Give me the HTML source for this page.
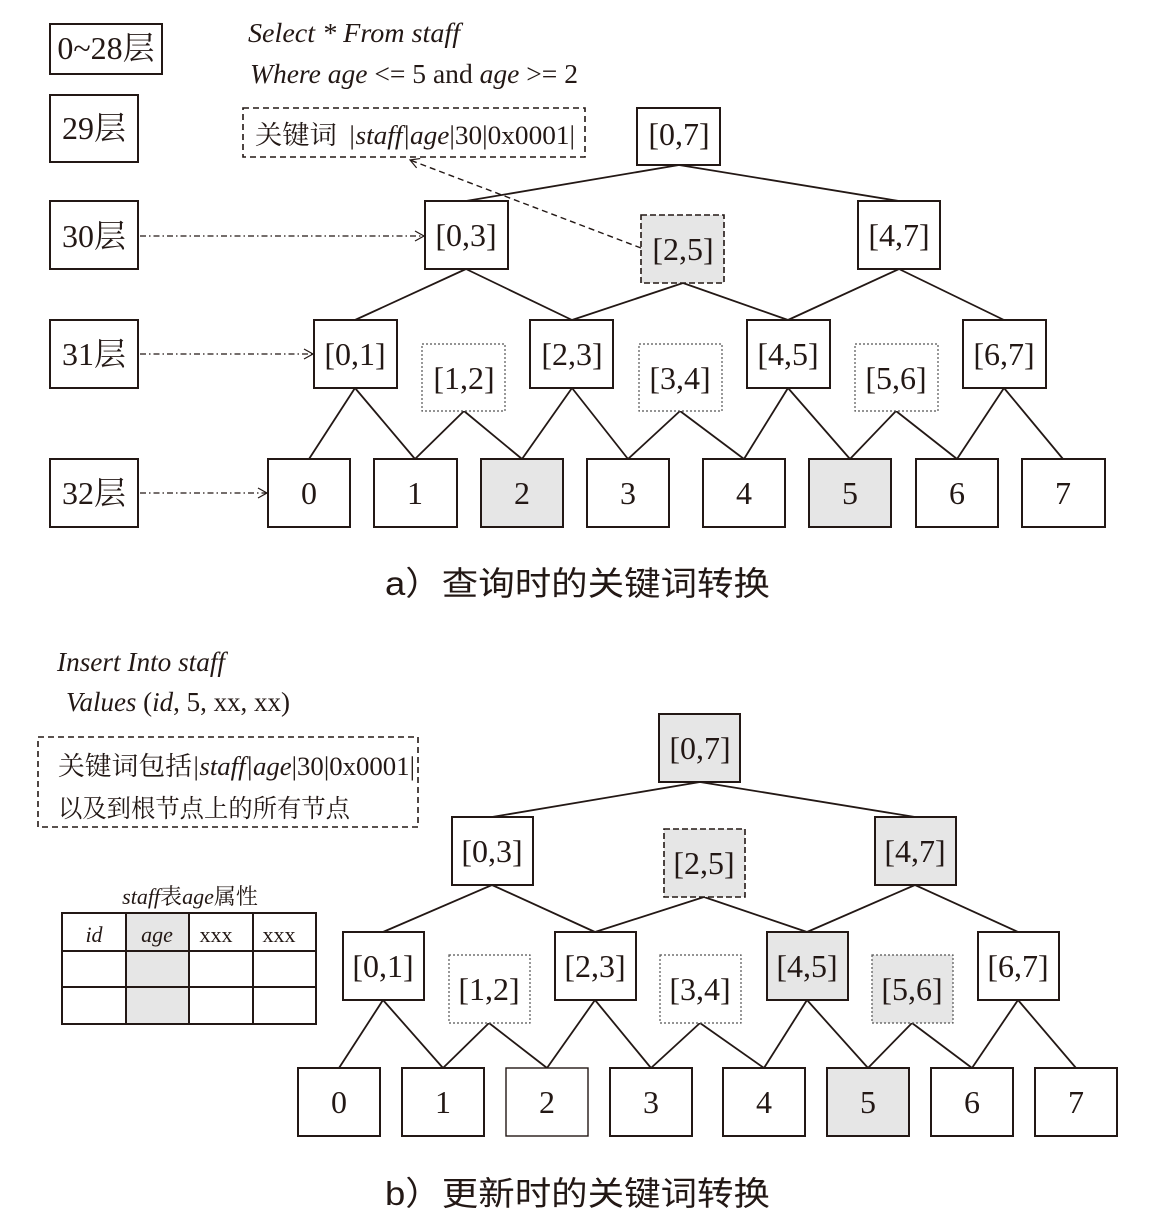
<!DOCTYPE html>
<html><head><meta charset="utf-8"><style>
html,body{margin:0;padding:0;background:#fff}
svg{display:block}
text{font-family:"Liberation Serif","Noto Serif CJK SC",serif;fill:#231815}
.n{font-size:32px;text-anchor:middle;dominant-baseline:central}
.s{font-family:"Liberation Sans","Noto Sans CJK SC",sans-serif;font-size:33px}
</style></head><body>
<svg width="1160" height="1217" viewBox="0 0 1160 1217" xmlns="http://www.w3.org/2000/svg">
<defs><marker id="ar" markerWidth="12" markerHeight="12" refX="10" refY="6" orient="auto" markerUnits="userSpaceOnUse"><path d="M1,1 L10,6 L1,11" fill="none" stroke="#231815" stroke-width="1.2"/></marker></defs>
<g stroke="#231815" stroke-width="2" fill="#fff">
<rect x="50" y="24" width="112" height="50"/>
<rect x="50" y="95" width="88" height="67"/>
<rect x="50" y="201" width="88" height="68"/>
<rect x="50" y="320" width="88" height="68"/>
<rect x="50" y="459" width="88" height="68"/>
</g>
<text class="n" x="106" y="48">0~28层</text>
<text class="n" x="94" y="128">29层</text>
<text class="n" x="94" y="236">30层</text>
<text class="n" x="94" y="354">31层</text>
<text class="n" x="94" y="493">32层</text>
<g stroke="#231815" stroke-width="1.2" fill="none" stroke-dasharray="6,3,1.5,3" marker-end="url(#ar)">
<line x1="140" y1="236" x2="424" y2="236"/>
<line x1="140" y1="354" x2="313" y2="354"/>
<line x1="140" y1="493" x2="267" y2="493"/>
</g>
<text x="248" y="42" font-size="27" font-style="italic" textLength="212" lengthAdjust="spacingAndGlyphs">Select * From staff</text>
<text x="250" y="83" font-size="27" textLength="328" lengthAdjust="spacingAndGlyphs"><tspan font-style="italic">Where age</tspan> &lt;= 5 and <tspan font-style="italic">age</tspan> &gt;= 2</text>
<rect x="243" y="108" width="342" height="49" fill="none" stroke="#231815" stroke-width="1.6" stroke-dasharray="6,4"/>
<text x="255" y="144" font-size="26" textLength="320" lengthAdjust="spacingAndGlyphs">关键词 <tspan dx="4" font-style="italic">|staff|age</tspan>|30|0x0001|</text>
<line x1="641" y1="248" x2="410" y2="160" stroke="#231815" stroke-width="1.4" stroke-dasharray="6,4" marker-end="url(#ar)"/>
<g stroke="#231815" stroke-width="1.8">
<line x1="679" y1="165" x2="466" y2="201"/><line x1="679" y1="165" x2="899" y2="201"/>
<line x1="466" y1="269" x2="355" y2="320"/><line x1="466" y1="269" x2="572" y2="320"/>
<line x1="683" y1="283" x2="572" y2="320"/><line x1="683" y1="283" x2="788" y2="320"/>
<line x1="899" y1="269" x2="788" y2="320"/><line x1="899" y1="269" x2="1004" y2="320"/>
<line x1="355" y1="388" x2="309" y2="459"/><line x1="355" y1="388" x2="415" y2="459"/>
<line x1="464" y1="411" x2="415" y2="459"/><line x1="464" y1="411" x2="522" y2="459"/>
<line x1="572" y1="388" x2="522" y2="459"/><line x1="572" y1="388" x2="628" y2="459"/>
<line x1="680" y1="411" x2="628" y2="459"/><line x1="680" y1="411" x2="744" y2="459"/>
<line x1="788" y1="388" x2="744" y2="459"/><line x1="788" y1="388" x2="850" y2="459"/>
<line x1="896" y1="411" x2="850" y2="459"/><line x1="896" y1="411" x2="957" y2="459"/>
<line x1="1004" y1="388" x2="957" y2="459"/><line x1="1004" y1="388" x2="1063" y2="459"/>
</g>
<g stroke="#231815" stroke-width="2" fill="#fff">
<rect x="637" y="108" width="83" height="57"/>
<rect x="425" y="201" width="83" height="68"/>
<rect x="858" y="201" width="82" height="68"/>
<rect x="314" y="320" width="83" height="68"/><rect x="530" y="320" width="83" height="68"/>
<rect x="747" y="320" width="83" height="68"/><rect x="963" y="320" width="83" height="68"/>
<rect x="268" y="459" width="82" height="68"/><rect x="374" y="459" width="83" height="68"/>
<rect x="481" y="459" width="82" height="68" fill="#e6e6e6"/><rect x="587" y="459" width="82" height="68"/>
<rect x="703" y="459" width="82" height="68"/><rect x="809" y="459" width="82" height="68" fill="#e6e6e6"/>
<rect x="916" y="459" width="82" height="68"/><rect x="1022" y="459" width="83" height="68"/>
</g>
<rect x="641" y="215" width="83" height="68" fill="#e6e6e6" stroke="#231815" stroke-width="1.6" stroke-dasharray="6,3"/>
<g fill="#fff" stroke="#555" stroke-width="1.2" stroke-dasharray="2,2">
<rect x="422" y="344" width="83" height="67"/><rect x="639" y="344" width="83" height="67"/><rect x="855" y="344" width="83" height="67"/>
</g>
<text class="n" x="679" y="134">[0,7]</text>
<text class="n" x="466" y="235">[0,3]</text><text class="n" x="683" y="249">[2,5]</text><text class="n" x="899" y="235">[4,7]</text>
<text class="n" x="355" y="354">[0,1]</text><text class="n" x="572" y="354">[2,3]</text><text class="n" x="788" y="354">[4,5]</text><text class="n" x="1004" y="354">[6,7]</text>
<text class="n" x="464" y="378">[1,2]</text><text class="n" x="680" y="378">[3,4]</text><text class="n" x="896" y="378">[5,6]</text>
<text class="n" x="309" y="493">0</text><text class="n" x="415" y="493">1</text><text class="n" x="522" y="493">2</text><text class="n" x="628" y="493">3</text>
<text class="n" x="744" y="493">4</text><text class="n" x="850" y="493">5</text><text class="n" x="957" y="493">6</text><text class="n" x="1063" y="493">7</text>
<text class="s" x="385" y="595" textLength="385" lengthAdjust="spacingAndGlyphs">a）查询时的关键词转换</text>

<text x="57" y="671" font-size="27" font-style="italic" textLength="168" lengthAdjust="spacingAndGlyphs">Insert Into staff</text>
<text x="66" y="711" font-size="27" textLength="224" lengthAdjust="spacingAndGlyphs"><tspan font-style="italic">Values</tspan> (<tspan font-style="italic">id</tspan>, 5, xx, xx)</text>
<rect x="38" y="737" width="380" height="90" fill="none" stroke="#231815" stroke-width="1.6" stroke-dasharray="6,4"/>
<text x="58" y="775" font-size="26" textLength="357" lengthAdjust="spacingAndGlyphs">关键词包括<tspan font-style="italic">|staff|age</tspan>|30|0x0001|</text>
<text x="58" y="817" font-size="25" textLength="292" lengthAdjust="spacingAndGlyphs">以及到根节点上的所有节点</text>
<text x="190" y="904" font-size="22" text-anchor="middle"><tspan font-style="italic">staff</tspan>表<tspan font-style="italic">age</tspan>属性</text>
<rect x="126" y="913" width="63" height="111" fill="#e6e6e6"/>
<g stroke="#231815" stroke-width="2" fill="none">
<rect x="62" y="913" width="254" height="111"/>
<line x1="62" y1="951" x2="316" y2="951"/><line x1="62" y1="987" x2="316" y2="987"/>
<line x1="126" y1="913" x2="126" y2="1024"/><line x1="189" y1="913" x2="189" y2="1024"/><line x1="253" y1="913" x2="253" y2="1024"/>
</g>
<text x="94" y="942" font-size="22" font-style="italic" text-anchor="middle">id</text>
<text x="157" y="942" font-size="22" font-style="italic" text-anchor="middle">age</text>
<text x="216" y="942" font-size="22" text-anchor="middle">xxx</text>
<text x="279" y="942" font-size="22" text-anchor="middle">xxx</text>
<g stroke="#231815" stroke-width="1.8">
<line x1="700" y1="782" x2="492" y2="817"/><line x1="700" y1="782" x2="915" y2="817"/>
<line x1="492" y1="885" x2="383" y2="932"/><line x1="492" y1="885" x2="595" y2="932"/>
<line x1="704" y1="897" x2="595" y2="932"/><line x1="704" y1="897" x2="807" y2="932"/>
<line x1="915" y1="885" x2="807" y2="932"/><line x1="915" y1="885" x2="1018" y2="932"/>
<line x1="383" y1="1000" x2="339" y2="1068"/><line x1="383" y1="1000" x2="443" y2="1068"/>
<line x1="489" y1="1023" x2="443" y2="1068"/><line x1="489" y1="1023" x2="547" y2="1068"/>
<line x1="595" y1="1000" x2="547" y2="1068"/><line x1="595" y1="1000" x2="651" y2="1068"/>
<line x1="700" y1="1023" x2="651" y2="1068"/><line x1="700" y1="1023" x2="764" y2="1068"/>
<line x1="807" y1="1000" x2="764" y2="1068"/><line x1="807" y1="1000" x2="868" y2="1068"/>
<line x1="912" y1="1023" x2="868" y2="1068"/><line x1="912" y1="1023" x2="972" y2="1068"/>
<line x1="1018" y1="1000" x2="972" y2="1068"/><line x1="1018" y1="1000" x2="1076" y2="1068"/>
</g>
<g stroke="#231815" stroke-width="2" fill="#fff">
<rect x="659" y="714" width="81" height="68" fill="#e6e6e6"/>
<rect x="452" y="817" width="81" height="68"/><rect x="875" y="817" width="81" height="68" fill="#e6e6e6"/>
<rect x="343" y="932" width="81" height="68"/><rect x="555" y="932" width="81" height="68"/>
<rect x="767" y="932" width="81" height="68" fill="#e6e6e6"/><rect x="978" y="932" width="81" height="68"/>
<rect x="298" y="1068" width="82" height="68"/><rect x="402" y="1068" width="82" height="68"/>
<rect x="506" y="1068" width="82" height="68" stroke-width="1.4"/><rect x="610" y="1068" width="82" height="68"/>
<rect x="723" y="1068" width="82" height="68"/><rect x="827" y="1068" width="82" height="68" fill="#e6e6e6"/>
<rect x="931" y="1068" width="82" height="68"/><rect x="1035" y="1068" width="82" height="68"/>
</g>
<rect x="664" y="829" width="81" height="68" fill="#e6e6e6" stroke="#231815" stroke-width="1.6" stroke-dasharray="6,3"/>
<g stroke="#555" stroke-width="1.2" stroke-dasharray="2,2">
<rect x="449" y="955" width="81" height="68" fill="#fff"/><rect x="660" y="955" width="81" height="68" fill="#fff"/><rect x="872" y="955" width="81" height="68" fill="#e6e6e6"/>
</g>
<text class="n" x="700" y="748">[0,7]</text>
<text class="n" x="492" y="851">[0,3]</text><text class="n" x="704" y="863">[2,5]</text><text class="n" x="915" y="851">[4,7]</text>
<text class="n" x="383" y="966">[0,1]</text><text class="n" x="595" y="966">[2,3]</text><text class="n" x="807" y="966">[4,5]</text><text class="n" x="1018" y="966">[6,7]</text>
<text class="n" x="489" y="989">[1,2]</text><text class="n" x="700" y="989">[3,4]</text><text class="n" x="912" y="989">[5,6]</text>
<text class="n" x="339" y="1102">0</text><text class="n" x="443" y="1102">1</text><text class="n" x="547" y="1102">2</text><text class="n" x="651" y="1102">3</text>
<text class="n" x="764" y="1102">4</text><text class="n" x="868" y="1102">5</text><text class="n" x="972" y="1102">6</text><text class="n" x="1076" y="1102">7</text>
<text class="s" x="385" y="1205" textLength="385" lengthAdjust="spacingAndGlyphs">b）更新时的关键词转换</text>
</svg>
</body></html>
